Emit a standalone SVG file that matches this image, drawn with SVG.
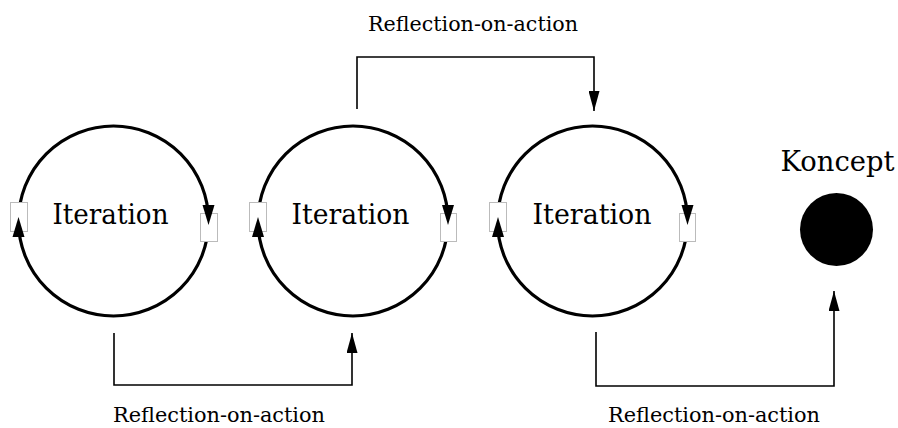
<svg xmlns="http://www.w3.org/2000/svg" width="898" height="428" viewBox="0 0 898 428">
  <style>
    .loop { fill: none; stroke: #000; stroke-width: 3.2; }
    .port { fill: #fff; stroke: #bbb; stroke-width: 1; }
    .head { fill: #000; }
    .wire { fill: none; stroke: #000; stroke-width: 1.6; }
    .label { font-family: "DejaVu Serif", "Liberation Serif", serif; fill: #000; }
    .iter { font-size: 27px; text-anchor: middle; }
    .refl { font-size: 21px; text-anchor: middle; }
  </style>
  <defs>
    <marker id="arrow" viewBox="0 0 20 11" refX="20" refY="5.5" markerWidth="20" markerHeight="11" markerUnits="userSpaceOnUse" orient="auto">
      <path d="M0,0 L20,5.5 L0,11 Z" fill="#000"/>
    </marker>
  </defs>
  <rect width="898" height="428" fill="#fff"/>

  <!-- iteration cycles -->
  <g id="iteration-1">
    <circle class="loop" cx="113.5" cy="221" r="95"/>
    <rect class="port" x="10.5" y="202.5" width="17" height="29"/>
    <rect class="port" x="200.5" y="213.5" width="17" height="28"/>
    <polygon class="head" points="18.5,217 12.5,237 24.5,237"/>
    <polygon class="head" points="208.5,225 202.5,205 214.5,205"/>
    <text class="label iter" x="110.5" y="224" textLength="116" lengthAdjust="spacingAndGlyphs">Iteration</text>
  </g>

  <g id="iteration-2">
    <circle class="loop" cx="353" cy="221" r="95"/>
    <rect class="port" x="249.5" y="202.5" width="17" height="29"/>
    <rect class="port" x="440.5" y="213.5" width="16" height="28"/>
    <polygon class="head" points="258,217 252,237 264,237"/>
    <polygon class="head" points="448,225 442,205 454,205"/>
    <text class="label iter" x="350.5" y="224" textLength="118" lengthAdjust="spacingAndGlyphs">Iteration</text>
  </g>

  <g id="iteration-3">
    <circle class="loop" cx="592.5" cy="221" r="95"/>
    <rect class="port" x="489.5" y="202.5" width="17" height="29"/>
    <rect class="port" x="679.5" y="213.5" width="16" height="28"/>
    <polygon class="head" points="498,217 492,237 504,237"/>
    <polygon class="head" points="687.5,225 681.5,205 693.5,205"/>
    <text class="label iter" x="592" y="224" textLength="119" lengthAdjust="spacingAndGlyphs">Iteration</text>
  </g>

  <!-- final concept -->
  <g id="koncept">
    <circle cx="836.5" cy="229.5" r="36.5" fill="#000"/>
    <text class="label" x="837.5" y="171" font-size="27" text-anchor="middle" textLength="114" lengthAdjust="spacingAndGlyphs">Koncept</text>
  </g>

  <!-- reflection connectors -->
  <g id="connectors">
    <path class="wire" d="M114,333 V385 H352 V333" marker-end="url(#arrow)"/>
    <path class="wire" d="M357,109 V57 H594 V111" marker-end="url(#arrow)"/>
    <path class="wire" d="M596,332 V386 H834 V291" marker-end="url(#arrow)"/>
    <text class="label refl" x="219" y="422" textLength="212" lengthAdjust="spacingAndGlyphs">Reflection-on-action</text>
    <text class="label refl" x="473" y="31" textLength="210" lengthAdjust="spacingAndGlyphs">Reflection-on-action</text>
    <text class="label refl" x="714" y="422" textLength="212" lengthAdjust="spacingAndGlyphs">Reflection-on-action</text>
  </g>
</svg>
